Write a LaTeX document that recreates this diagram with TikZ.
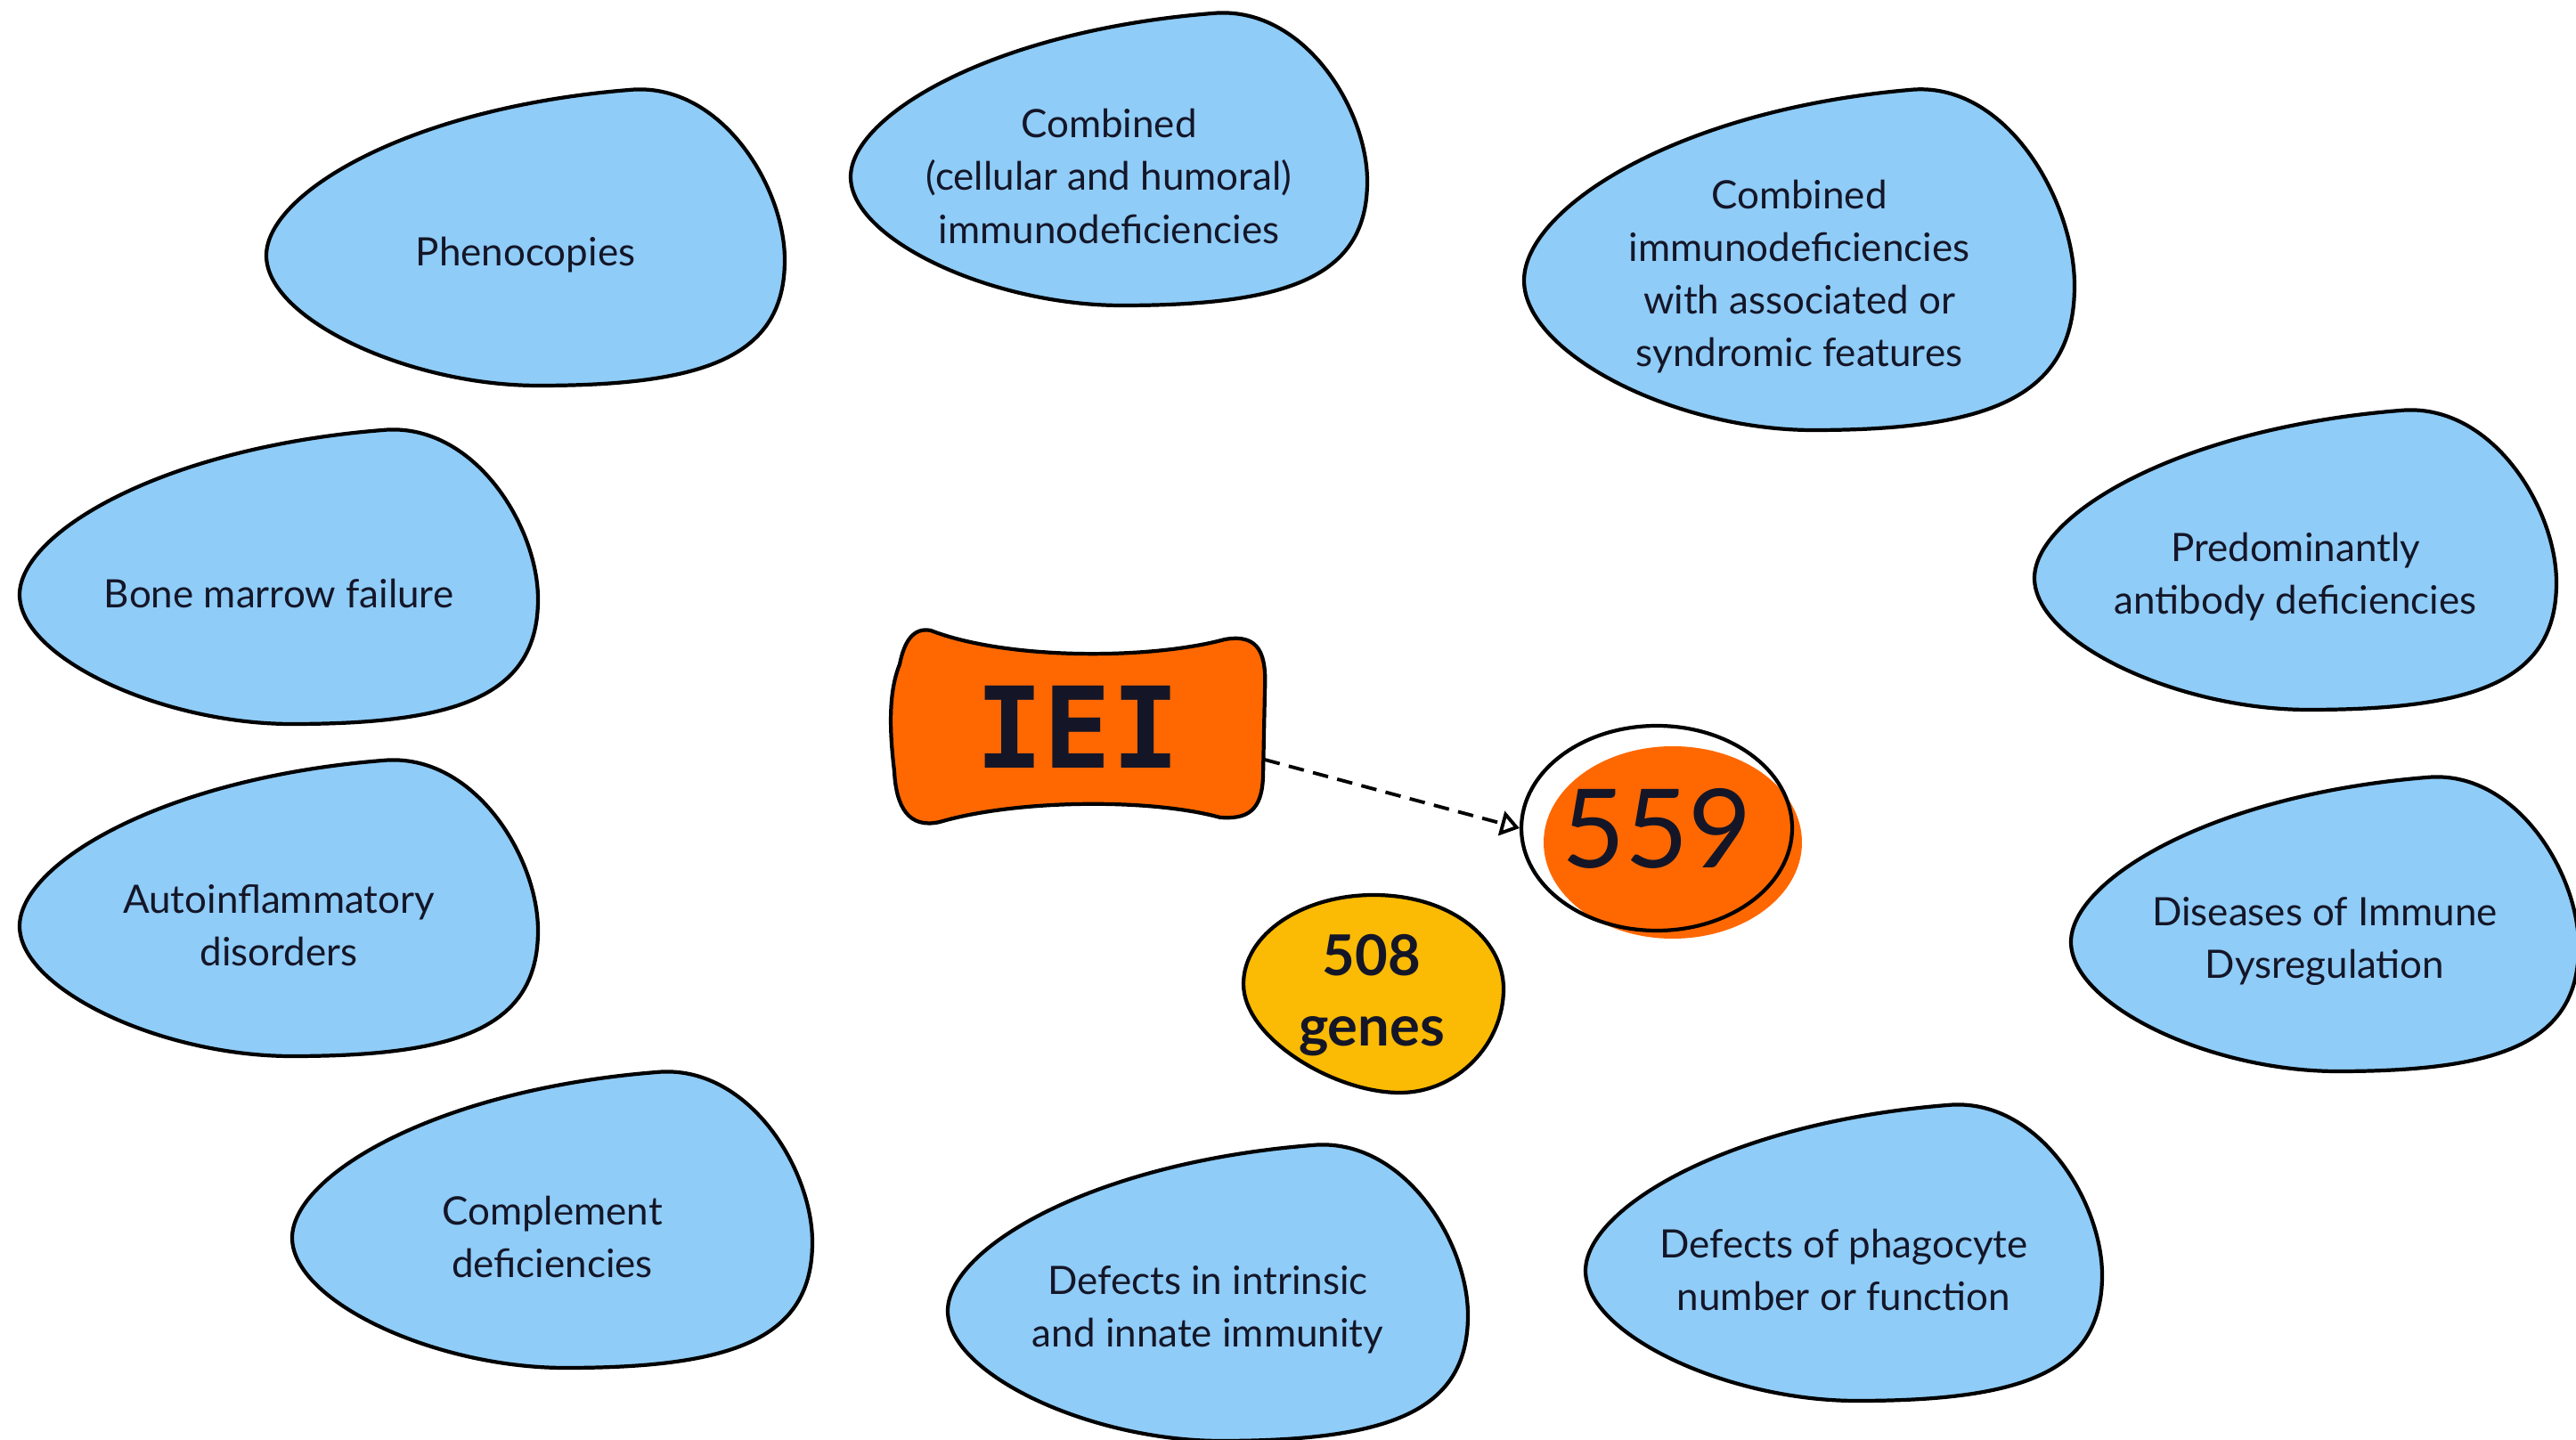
\documentclass[tikz,border=0pt]{standalone}
\usepackage{fontspec}
\setmainfont{Lato}
\newfontfamily\ieifont{DejaVu Sans Mono}
\usetikzlibrary{arrows.meta,shapes.geometric}
\definecolor{BlobClr}{RGB}{143,204,247}
\definecolor{OrangeClr}{RGB}{255,104,0}
\definecolor{GeneClr}{RGB}{251,186,3}
\definecolor{InkClr}{RGB}{20,22,40}

\tikzset{
  blobline/.style={line width=1.2pt,draw=black,fill=BlobClr},
  blobtext/.style={align=center,text=InkClr,inner sep=1pt,
    font=\fontsize{12.5}{16.8}\selectfont},
  bigline/.style={line width=1.2pt,draw=black},
  linkline/.style={line width=1.1pt,dash pattern=on 5pt off 3pt,
    -{Triangle[open,length=6pt,width=8pt]}}
}

% blob with its label: name, centre x, centre y, half width, half height, text
\newcommand{\blob}[6]{%
  \filldraw[blobline,shift={(#2,#3)},xscale=#4,yscale=#5]
    (-1,-0.12) .. controls (-1,0.3) and (-0.45,0.88) .. (0.4,1.0)
    .. controls (0.75,1.06) and (1,0.35) .. (1,-0.15)
    .. controls (1,-0.8) and (0.7,-1) .. (0.05,-1)
    .. controls (-0.45,-1) and (-1,-0.55) .. (-1,-0.12) -- cycle;
  \node[blobtext,yshift=-5.4pt] (#1) at (#2,#3) {#6};
}

\begin{document}
\begin{tikzpicture}
\useasboundingbox (0,0) rectangle (28.92,16.16);

% categories round the centre
\blob{pheno}{5.90}{13.49}{2.91}{1.66}{Phenocopies}
\blob{combined}{12.45}{14.37}{2.90}{1.64}{Combined\\(cellular and humoral)\\immunodeficiencies}
\blob{syndromic}{20.20}{13.24}{3.09}{1.91}{Combined\\immunodeficiencies\\with associated or\\syndromic features}
\blob{antibody}{25.77}{9.87}{2.93}{1.68}{Predominantly\\antibody deficiencies}
\blob{dysreg}{26.10}{5.78}{2.85}{1.65}{Diseases of Immune\\Dysregulation}
\blob{phago}{20.70}{2.09}{2.90}{1.66}{Defects of phagocyte\\number or function}
\blob{innate}{13.56}{1.64}{2.92}{1.66}{Defects in intrinsic\\and innate immunity}
\blob{complement}{6.20}{2.46}{2.92}{1.66}{Complement\\deficiencies}
\blob{autoinfl}{3.13}{5.96}{2.91}{1.66}{Autoinflammatory\\disorders}
\blob{marrow}{3.13}{9.68}{2.91}{1.65}{Bone marrow failure}

% IEI box
\filldraw[bigline,fill=OrangeClr] (10.45,9.08)
  .. controls (11.3,8.75) and (12.9,8.75) .. (13.75,8.98)
  .. controls (14.15,9.05) and (14.22,8.8) .. (14.2,8.4)
  -- (14.18,7.45)
  .. controls (14.17,7.05) and (14.0,6.96) .. (13.7,6.98)
  .. controls (12.9,7.2) and (11.4,7.18) .. (10.55,6.93)
  .. controls (10.2,6.85) and (10.06,7.1) .. (10.04,7.5)
  .. controls (9.98,8.0) and (9.98,8.4) .. (10.1,8.7)
  .. controls (10.15,8.95) and (10.25,9.12) .. (10.45,9.08) -- cycle;
\node[minimum width=4.18cm,minimum height=2.12cm,text=InkClr,
  font=\ieifont\bfseries\fontsize{36}{40}\selectfont] (iei) at (12.1,8.0) {IEI};

% 559
\fill[OrangeClr] (18.78,6.70) ellipse (1.45cm and 1.08cm);
\node[ellipse,bigline,minimum width=3.04cm,minimum height=2.3cm,inner sep=0pt,
  text=InkClr,font=\fontsize{35}{38}\selectfont] (n559) at (18.6,6.86) {559};

% 508 genes
\filldraw[bigline,fill=GeneClr,shift={(15.42,5.0)},xscale=1.46,yscale=1.11]
  (0,1) .. controls (0.6,1) and (1,0.55) .. (1,0.05)
  .. controls (1,-0.5) and (0.65,-1) .. (0.2,-1)
  .. controls (-0.3,-1) and (-1,-0.45) .. (-1,0.1)
  .. controls (-1,0.6) and (-0.55,1) .. (0,1) -- cycle;
\node[align=center,text=InkClr,font=\bfseries\fontsize{18}{22.5}\selectfont]
  (genes) at (15.40,4.98) {508\\genes};

\draw[linkline] (iei.-10) -- (n559.west);

\end{tikzpicture}
\end{document}
